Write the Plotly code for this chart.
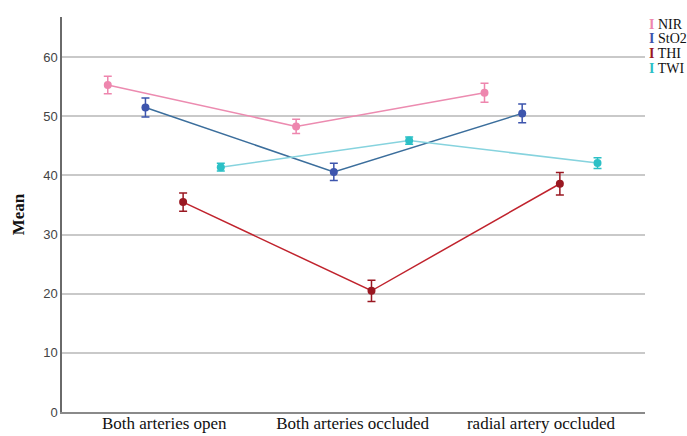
import plotly.graph_objects as go

categories = ["Both arteries open", "Both arteries occluded", "radial artery occluded"]
series_names = ["NIR", "StO2", "THI", "TWI"]
nir = [55.3, 48.3, 54.0]
nir_err = [1.5, 1.2, 1.6]
sto2 = [51.5, 40.6, 50.5]
sto2_err = [1.6, 1.45, 1.6]
thi = [35.5, 20.5, 38.6]
thi_err = [1.55, 1.8, 1.9]
twi = [41.4, 45.9, 42.1]
twi_err = [0.65, 0.6, 0.9]
y_ticks = [0, 10, 20, 30, 40, 50, 60]

values = [nir, sto2, thi, twi]
errors = [nir_err, sto2_err, thi_err, twi_err]
marker_colors = ["#ee86ae", "#3d55ad", "#9a1822", "#2cc0c6"]
line_colors = ["#ec8bb0", "#3b6e9c", "#c0232d", "#86d3de"]

fig = go.Figure()
for name, v, e, mc, lc in zip(series_names, values, errors, marker_colors, line_colors):
    fig.add_trace(go.Scatter(
        x=categories, y=v, name=name, offsetgroup=name,
        mode="lines+markers",
        line=dict(color=lc, width=1.5),
        marker=dict(color=mc, size=8),
        error_y=dict(type="data", array=e, visible=True, color=mc, thickness=1.5, width=4),
        showlegend=False,
    ))

# legend drawn as text entries (colored I-beam glyph + name)
for i, (name, mc) in enumerate(zip(series_names, marker_colors)):
    fig.add_annotation(
        xref="paper", yref="paper", x=1.0, y=1.0, xanchor="left", yanchor="middle",
        xshift=2, yshift=-(7 + i * 14.7), showarrow=False,
        text=f'<span style="color:{mc}"><b>I</b></span> {name}',
        font=dict(family="Liberation Serif", size=14, color="#111"),
    )

fig.update_layout(
    width=687, height=436,
    margin=dict(l=62, r=42, t=17, b=24, autoexpand=False),
    paper_bgcolor="white", plot_bgcolor="white",
    scattermode="group", scattergap=0.2,
    showlegend=False,
    xaxis=dict(type="category", range=[-0.543, 2.552], showgrid=False,
               showline=True, linecolor="#8a8a8a", linewidth=2,
               ticks="", ticklabelstandoff=-5,
               tickfont=dict(family="Liberation Serif", size=17, color="#111"),
               zeroline=False),
    yaxis=dict(range=[0, 66.8], tickvals=y_ticks, showgrid=True, gridcolor="#c9c9c9", gridwidth=1.5,
               showline=True, linecolor="#6a6a6a", linewidth=1.5, ticks="",
               tickfont=dict(family="Liberation Sans", size=13, color="#444"),
               zeroline=False,
               title=dict(text="<b>Mean</b>", font=dict(family="Liberation Serif", size=17, color="#111"), standoff=14)),
)
fig.write_html("out.html", config={"displayModeBar": False},
               post_script="document.body.style.margin='0px';document.body.style.overflow='hidden';")
